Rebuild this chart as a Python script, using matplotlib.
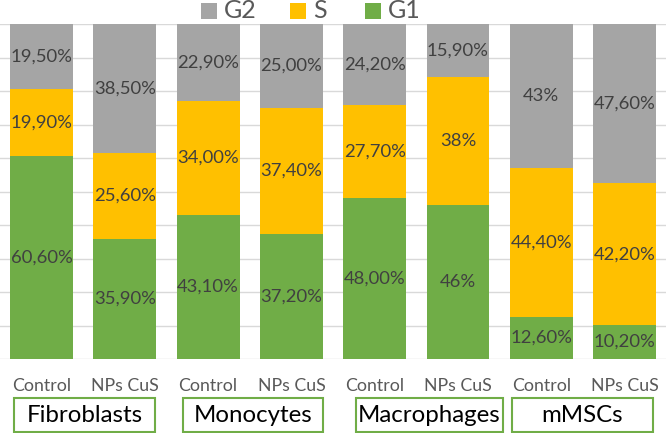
import matplotlib
matplotlib.use("Agg")
import matplotlib.pyplot as plt
from matplotlib.patches import Rectangle
import numpy as np

plt.rcParams['font.family'] = ['Lato', 'DejaVu Sans']

conditions = ["Control", "NPs CuS", "Control", "NPs CuS", "Control", "NPs CuS", "Control", "NPs CuS"]
groups = ["Fibroblasts", "Monocytes", "Macrophages", "mMSCs"]
g1 = [60.6, 35.9, 43.1, 37.2, 48.0, 46.0, 12.6, 10.2]
s = [19.9, 25.6, 34.0, 37.4, 27.7, 38.0, 44.4, 42.2]
g2 = [19.5, 38.5, 22.9, 25.0, 24.2, 15.9, 43.0, 47.6]
g1_lbl = ["60,60%", "35,90%", "43,10%", "37,20%", "48,00%", "46%", "12,60%", "10,20%"]
s_lbl = ["19,90%", "25,60%", "34,00%", "37,40%", "27,70%", "38%", "44,40%", "42,20%"]
g2_lbl = ["19,50%", "38,50%", "22,90%", "25,00%", "24,20%", "15,90%", "43%", "47,60%"]
series_names = ["G2", "S", "G1"]

colors = {"G1": "#70ad47", "S": "#ffc000", "G2": "#a5a5a5"}

W, H = 666, 433
fig = plt.figure(figsize=(W / 100, H / 100), dpi=100)
ax = fig.add_axes([0, (H - 359) / H, 1, (359 - 24) / H])

x = np.arange(len(conditions))
tot = np.array(g1) + np.array(s) + np.array(g2)
g1n = np.array(g1) / tot * 100
sn = np.array(s) / tot * 100
g2n = np.array(g2) / tot * 100
width = 0.756

ax.bar(x, g1n, width, color=colors["G1"], zorder=2)
ax.bar(x, sn, width, bottom=g1n, color=colors["S"], zorder=2)
ax.bar(x, g2n, width, bottom=g1n + sn, color=colors["G2"], zorder=2)

for i in range(len(x)):
    ax.text(x[i], g1n[i] / 2, g1_lbl[i], ha='center', va='center', fontsize=13.3, color='#404040', zorder=3)
    ax.text(x[i], g1n[i] + sn[i] / 2, s_lbl[i], ha='center', va='center', fontsize=13.3, color='#404040', zorder=3)
    ax.text(x[i], g1n[i] + sn[i] + g2n[i] / 2, g2_lbl[i], ha='center', va='center', fontsize=13.3, color='#404040', zorder=3)

ax.set_xlim(-0.498, 7.497)
ax.set_ylim(0, 100)
ax.set_yticks(np.arange(0, 101, 10))
ax.yaxis.grid(True, color='#d9d9d9', linewidth=1, zorder=0)
ax.set_axisbelow(True)
for sp in ax.spines.values():
    sp.set_visible(False)
ax.tick_params(axis='y', left=False, labelleft=False)
ax.tick_params(axis='x', bottom=False, pad=10)
ax.set_xticks(x)
ax.set_xticklabels(conditions, fontsize=12.8, color='#595959')

# group boxes (pixel coordinates)
boxes = [(14, 155), (183, 323), (356, 503), (512, 653)]
for (l, r), name in zip(boxes, groups):
    top, bot = 398, 432
    rect = Rectangle((l / W, (H - bot) / H), (r - l) / W, (bot - top) / H,
                     transform=fig.transFigure, fill=False, edgecolor='#70ad47', linewidth=1.5)
    fig.patches.append(rect)
    fig.text((l + r) / 2 / W, (H - (top + bot) / 2) / H, name, ha='center', va='center',
             fontsize=17.3, color='black')

# legend (manual)
leg = [(201, "G2"), (290, "S"), (365, "G1")]
for (px, name) in leg:
    rect = Rectangle((px / W, (H - 19) / H), 16 / W, 16 / H, transform=fig.transFigure,
                     facecolor=colors[name], edgecolor='none')
    fig.patches.append(rect)
    fig.text((px + 23) / W, (H - 11) / H, name, ha='left', va='center', fontsize=18, color='#595959')

fig.savefig("out.png", dpi=100)
